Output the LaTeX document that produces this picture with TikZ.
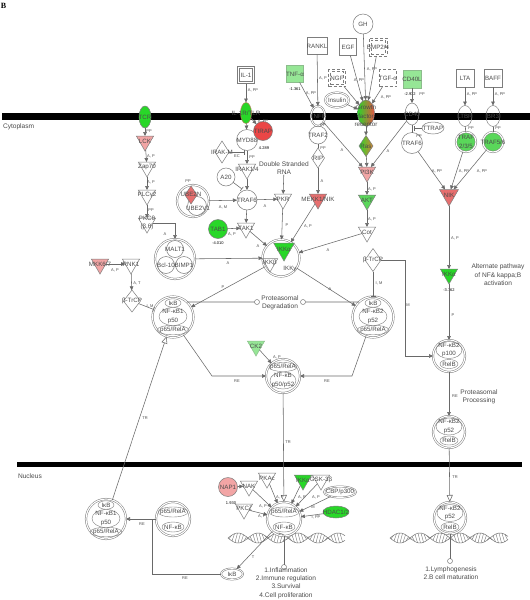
\documentclass[tikz,border=0pt]{standalone}
\usepackage{fontspec}
\setmainfont{Liberation Sans}
\newfontfamily\serifbf{Liberation Serif}
\usetikzlibrary{shapes.geometric,arrows.meta}
\definecolor{ec}{RGB}{105,105,105}
\definecolor{nc}{RGB}{125,125,125}
\definecolor{tc}{RGB}{75,75,75}
\definecolor{gA}{RGB}{40,215,40}
\definecolor{gM}{RGB}{90,215,90}
\definecolor{gB}{RGB}{150,230,150}
\definecolor{rA}{RGB}{235,70,70}
\definecolor{rM}{RGB}{230,110,110}
\definecolor{rB}{RGB}{242,165,165}
\definecolor{orng}{RGB}{215,130,60}
\begin{document}
\begin{tikzpicture}[x=1pt,y=-1pt,
  every node/.style={inner sep=0pt,outer sep=0pt},
  nd/.style={draw=nc,line width=0.5pt},
  nl/.style={font=\fontsize{6.2}{8.5}\selectfont,text=tc,align=center},
  nlab/.style={label={[nl]center:#1}},
  circ/.style={nd,circle,minimum size=20pt},
  dcirc/.style={nd,circle,double=white,double distance=1.1pt,minimum size=40pt},
  tri/.style={nd,regular polygon,regular polygon sides=3,shape border rotate=180,minimum size=20pt},
  diam/.style={nd,diamond,minimum width=14pt,minimum height=21pt},
  sqr/.style={nd,rectangle,minimum width=17pt,minimum height=17pt},
  insq/.style={nd,rectangle,minimum width=13pt,minimum height=13pt},
  ell/.style={nd,ellipse,minimum width=13pt,minimum height=21pt},
  iell/.style={nd,ellipse,line width=0.4pt},
  el/.style={font=\fontsize{4}{4}\selectfont,text=tc},
  cv/.style={font=\fontsize{4}{4}\selectfont,text=black},
  tx/.style={font=\fontsize{6.6}{8.4}\selectfont,text=tc,align=center},
  ar/.style={draw=ec,line width=0.55pt,-{Triangle[width=3.6pt,length=4pt]}},
  ln/.style={draw=ec,line width=0.55pt},
  inh/.style={draw=ec,line width=0.55pt,-{Bar[width=5pt]}},
  tra/.style={draw=ec,line width=0.55pt,-{Triangle[open,width=6pt,length=7pt]}},
  dna/.style={draw=ec,line width=0.45pt}]
\fill[white] (0,0) rectangle (530,600);
\useasboundingbox (0,0) rectangle (530,600);
% membranes
\fill[black] (2,113) rectangle (530,120);
\fill[black] (17,462) rectangle (522,467);
\node[font=\serifbf\bfseries\fontsize{8}{8}\selectfont,anchor=west] (lblB) at (1,6) {B};
\node[tx,anchor=west] (cyto) at (3,127) {Cytoplasm};
\node[tx,anchor=west] (nucl) at (18,476) {Nucleus};
% DNA helices
\draw[dna] plot[domain=228:345,samples=90] (\x,{538+5*sin(9*(\x-228))});
\draw[dna] plot[domain=228:345,samples=90] (\x,{538-5*sin(9*(\x-228))});
\foreach \u in {229,232,...,342} {\draw[dna,line width=0.35pt] (\u,{538+5*sin(9*(\u-228))}) -- ({\u+2.5},{538-5*sin(9*(\u+2.5-228))});}
\draw[dna] plot[domain=390:508,samples=90] (\x,{538+5*sin(9*(\x-390))});
\draw[dna] plot[domain=390:508,samples=90] (\x,{538-5*sin(9*(\x-390))});
\foreach \u in {391,394,...,505} {\draw[dna,line width=0.35pt] (\u,{538+5*sin(9*(\u-390))}) -- ({\u+2.5},{538-5*sin(9*(\u+2.5-390))});}

% ---------- left column ----------
\node[ell,fill=gA,minimum width=12pt,minimum height=22pt,nlab=TCR] (tcr) at (145,117) {};
\node[tri,fill=rB,nlab=LCK] (lck) at (145,141) {};
\node[tri,nlab=Zap70] (zap) at (147,167) {};
\node[tri,nlab=PLCγ2] (plc) at (147,195) {};
\node[tri,nlab={PKCθ\\(β,θ)}] (pkc) at (147,223) {};
\node[dcirc,minimum size=40pt] (malt) at (175,259) {};
\node[circ,minimum size=17pt,nlab=MALT1] (malt1) at (175,249) {};
\node[circ,minimum size=17pt,nlab=Bcl-10] (bcl) at (166,265) {};
\node[circ,minimum size=17pt,nlab=BIMP1] (bimp) at (184,265) {};
\node[tri,fill=rB,nlab=MKK6/7] (mkk) at (100,264) {};
\node[tri,nlab=RNK1] (rnk) at (131,264) {};
\node[diam,minimum width=17pt,minimum height=22pt,nlab=β-TrCP] (btl) at (132,301) {};
\node[dcirc,minimum size=41pt] (lcx) at (173,317) {};
\node[iell,minimum width=16pt,minimum height=8.5pt,nlab=IκB] (lcxa) at (173,303) {};
\node[iell,minimum width=28pt,minimum height=18pt,nlab={NF-κB1\\p50}] (lcxb) at (173,316.5) {};
\node[iell,minimum width=32pt,minimum height=9.5pt,nlab=p65/RelA] (lcxc) at (173,330) {};

% ---------- IL-1 branch ----------
\node[sqr,nlab=IL-1] (il1) at (246,75) {};
\node[insq] (il1in) at (246,75) {};
\node[ell,fill=gA,draw=orng!60!nc,minimum width=11pt,minimum height=21pt,nlab=IL-1R/TLR] (il1r) at (246,113) {};
\node[circ,minimum size=21pt,nlab=MYD88] (myd) at (247,140) {};
\node[circ,fill=rA,minimum size=19pt,nlab=TIRAP] (tirap) at (263,131) {};
\node[cv] (tirapv) at (264,148) {4.289};
\node[diam,minimum width=14pt,minimum height=22pt,nlab=IRAK-M] (irakm) at (222,152) {};
\node[tri,nlab=IRAK1/4] (irak) at (247,169) {};
\node[circ,minimum size=18pt,nlab=A20] (a20) at (226,177) {};
\node[circ,minimum size=20pt,nlab=TRAF6] (traf6l) at (247,200) {};
\node[tx] (dsrna) at (284,168) {Double Stranded\\RNA};
\node[tri,nlab=PKR] (pkr) at (283,199) {};
\node[dcirc,minimum size=32pt] (ube) at (193,201) {};
\node[nd,circle,minimum size=19pt] (ube2v) at (197,206) {};
\node[nd,diamond,fill=rM,minimum width=12pt,minimum height=18pt] (ube2n) at (191,195) {};
\node[nl] (ube2nt) at (191,194) {UBE2N};
\node[nl] (ube2vt) at (198,208) {UBE2V1};
\node[el] (ubepp) at (188,181) {PP};
\node[circ,fill=gA,minimum size=19pt,nlab=TAB1] (tab1) at (218,229) {};
\node[cv] (tab1v) at (218,243) {-4.010};
\node[tri,nlab=TAK1] (tak) at (246,228) {};
\node[dcirc,minimum size=37pt] (ikk) at (281,258) {};
\node[tri,fill=gA,minimum size=24pt,nlab=IKKα] (ikka) at (284,249) {};
\node[tri,minimum size=18pt,nlab=IKKβ] (ikkb) at (270,263) {};
\node[nl] (ikkg) at (290,269) {IKKγ};
\node[tri,fill=rM,nlab=MEKK1/NIK] (mekk) at (318,199) {};

% ---------- TNF / growth factors ----------
\node[sqr,fill=gB,draw=gB!60!nc,nlab=TNF-α] (tnfa) at (295,74) {};
\node[cv] (tnfav) at (295,89) {-1.361};
\node[sqr,minimum width=20pt,nlab=RANKL] (rankl) at (317,46) {};
\node[nd,ellipse,double=white,double distance=1pt,minimum width=14pt,minimum height=20pt,nlab=TNFR] (tnfr) at (318,116) {};
\node[circ,minimum size=18pt,nlab=TRAF2] (traf2) at (318,135) {};
\node[diam,minimum width=13pt,minimum height=20pt,nlab=RIP] (rip) at (318,158) {};
\node[sqr,densely dashed,nlab=NGF] (ngf) at (337,78) {};
\node[insq,densely dashed] (ngfin) at (337,78) {};
\node[nd,ellipse,double=white,double distance=1pt,minimum width=24pt,minimum height=15pt,nlab=Insulin] (ins) at (337,100) {};
\node[sqr,nlab=EGF] (egf) at (348,47) {};
\node[circ,nlab=GH] (gh) at (363,24) {};
\node[sqr,densely dashed,minimum width=18pt,minimum height=18pt,nlab=BMP2/4] (bmp) at (378,47) {};
\node[insq,densely dashed,minimum width=14pt,minimum height=14pt] (bmpin) at (378,47) {};
\node[sqr,densely dashed,nlab=TGF-α] (tgfa) at (388,78) {};
\node[sqr,fill=gB,draw=gB!60!nc,minimum width=18pt,minimum height=18pt,nlab=CD40L] (cd40l) at (412,79) {};
\node[cv] (cd40lv) at (410,94) {-2.932};
\node[nd,ellipse,left color=gA,right color=rA!80!orng,minimum width=17pt,minimum height=26pt] (gfr) at (366,113) {};
\node[nl] (gfrt) at (366,116.5) {Growth\\factor\\receptor};
\node[diam,left color=gA,right color=orng,minimum width=14pt,minimum height=21pt,nlab=Ras] (ras) at (366,146) {};
\node[tri,fill=rB,nlab=PI3K] (pi3k) at (367,172) {};
\node[tri,fill=gM,nlab=AKT] (akt) at (367,200) {};
\node[tri,nlab=Cot] (cot) at (367,232) {};
\node[ell,minimum width=14pt,minimum height=22pt,nlab=CD40] (cd40) at (412,114) {};
\node[nd,ellipse,minimum width=22pt,minimum height=12pt,nlab=TTRAP] (ttrap) at (433,128) {};
\node[circ,minimum size=21pt,nlab=TRAF6] (traf6r) at (412,143) {};
\node[sqr,minimum width=18pt,minimum height=18pt,nlab=LTA] (lta) at (465,78) {};
\node[sqr,minimum width=18pt,minimum height=18pt,nlab=BAFF] (baff) at (493,78) {};
\node[ell,minimum width=14pt,nlab=LTBR] (ltbr) at (465,116) {};
\node[ell,minimum width=14pt,nlab=BR3] (br3) at (493,116) {};
\node[dcirc,fill=gM,minimum size=20pt,nlab={TRAF\\2/3/5}] (traf235) at (466,142) {};
\node[dcirc,fill=gM,minimum size=20pt,nlab=TRAF5/6] (traf56) at (493,142) {};
\node[tri,fill=rM,minimum size=22pt,nlab=NIK] (nik) at (449,195) {};
\node[tri,fill=gA,nlab=IKKα] (ikka2) at (449,274) {};
\node[cv] (ikka2v) at (449,290) {-3.762};
\node[tx] (alt) at (498,275) {Alternate pathway\\of NF\& kappa;B\\activation};
\node[dcirc,minimum size=32pt] (p100) at (449,356) {};
\node[iell,minimum width=26pt,minimum height=17pt,nlab={NF-κB2\\p100}] (p100a) at (449,350) {};
\node[iell,minimum width=18pt,minimum height=9pt,nlab=RelB] (p100b) at (449,364) {};
\node[tx] (proc) at (479,397) {Proteasomal\\Processing};
\node[dcirc,minimum size=32pt] (p52c) at (449,432) {};
\node[iell,minimum width=26pt,minimum height=17pt,nlab={NF-κB2\\p52}] (p52ca) at (449,426.5) {};
\node[iell,minimum width=18pt,minimum height=9pt,nlab=RelB] (p52cb) at (449,440.5) {};

% ---------- middle ----------
\node[diam,minimum width=16pt,minimum height=23pt,nlab=β-TrCP] (btm) at (373,260) {};
\node[dcirc,minimum size=41pt] (rcx) at (373,317) {};
\node[iell,minimum width=16pt,minimum height=8.5pt,nlab=IκB] (rcxa) at (373,303) {};
\node[iell,minimum width=28pt,minimum height=18pt,nlab={NF-κB2\\p52}] (rcxb) at (373,316.5) {};
\node[iell,minimum width=32pt,minimum height=9.5pt,nlab=p65/RelA] (rcxc) at (373,330) {};
\node[tx] (prot) at (280,303) {Proteasomal\\Degradation};
\node[circ,minimum size=5pt] (pd1) at (257,302) {};
\node[circ,minimum size=5pt] (pd2) at (303,302) {};
\node[tri,fill=gB,draw=gB!60!nc,nlab=CK2] (ck2) at (256,346) {};
\node[dcirc,minimum size=34pt] (mcx) at (283,376) {};
\node[iell,minimum width=28pt,minimum height=9pt,nlab=p65/RelA] (mcxa) at (283,367) {};
\node[iell,minimum width=26pt,minimum height=17pt,nlab={NF-κB\\p50/p52}] (mcxb) at (283,380.5) {};

% ---------- nucleus ----------
\node[circ,fill=rB,minimum size=19pt,nlab=NAP1] (nap1) at (228,487) {};
\node[cv] (nap1v) at (231,503) {1.930};
\node[tri,nlab=NAK] (nak) at (249,486) {};
\node[tri,nlab=PKAc] (pkac) at (267,478) {};
\node[tri,nlab=PKCζ] (pkcz) at (244,509) {};
\node[tri,fill=gA,nlab=IKKα] (ikkan) at (303,480) {};
\node[tri,nlab=GSK-3β] (gsk) at (321,480) {};
\node[nd,ellipse,double=white,double distance=0.8pt,minimum width=32pt,minimum height=11pt,nlab=CBP/p300] (cbp) at (340,492) {};
\node[nd,ellipse,fill=gA,minimum width=26pt,minimum height=12pt,nlab=HDAC1/2] (hdac) at (336,512) {};
\node[dcirc,minimum size=34pt] (ncx) at (284,519) {};
\node[iell,minimum width=30pt,minimum height=10pt,nlab=p65/RelA] (ncxa) at (284,512) {};
\node[iell,minimum width=22pt,minimum height=10pt,nlab=NF-κB] (ncxb) at (284,527) {};
\node[dcirc,minimum size=40pt] (lnx) at (106,519) {};
\node[iell,minimum width=16pt,minimum height=8.5pt,nlab=IκB] (lnxa) at (106,505) {};
\node[iell,minimum width=28pt,minimum height=18pt,nlab={NF-κB1\\p50}] (lnxb) at (106,518.5) {};
\node[iell,minimum width=32pt,minimum height=9.5pt,nlab=p65/RelA] (lnxc) at (106,532) {};
\node[dcirc,minimum size=34pt] (pnx) at (173,519) {};
\node[iell,minimum width=30pt,minimum height=10pt,nlab=p65/RelA] (pnxa) at (173,512) {};
\node[iell,minimum width=22pt,minimum height=10pt,nlab=NF-κB] (pnxb) at (173,527) {};
\node[nd,ellipse,double=white,double distance=0.8pt,minimum width=22pt,minimum height=11pt,nlab=IκB] (ikbn) at (232,574) {};
\node[dcirc,minimum size=32pt] (p52n) at (450,518) {};
\node[iell,minimum width=26pt,minimum height=17pt,nlab={NF-κB2\\p52}] (p52na) at (450,513) {};
\node[iell,minimum width=18pt,minimum height=9pt,nlab=RelB] (p52nb) at (450,527) {};
\node[circ,minimum size=5pt] (o1) at (284,567) {};
\node[tx] (r1) at (286,583) {1.Inflammation\\2.Immune regulation\\3.Survival\\4.Cell proliferation};
\node[circ,minimum size=5pt] (o2) at (450,561) {};
\node[tx] (r2) at (451,573) {1.Lymphogenesis\\2.B cell maturation};

% ---------- coordinates ----------
\coordinate (myde) at (245,152);
\coordinate (a20e) at (242,189);
\coordinate (tte) at (414,128);
\coordinate (bc) at (405,260);
\coordinate (lb) at (212,376);
\coordinate (rb) at (352,376);
\coordinate (j1) at (152,574);
\coordinate (j2) at (152,519);

% ---------- connectors ----------
\draw[ar] (il1) -- (il1r);
\draw[ar] (il1r) -- (myd);
\draw[ar] (il1r) -- (tirap);
\draw[ar] (myd) -- (irak);
\draw[inh] (irakm) -- (myde);
\draw[ar] (irak) -- (traf6l);
\draw[inh] (a20) -- (a20e);
\draw[ar] (traf6l) -- (tak);
\draw[ar] (traf6l) -- (pkr);
\draw[ar] (ube) -- (traf6l);
\draw[ar] (tab1) -- (tak);
\draw[ar] (tak) -- (ikk);
\draw[ar] (dsrna) -- (pkr);
\draw[ar] (pkr) -- (ikk);
\draw[ar] (mekk) -- (ikk);
\draw[ar] (cot) -- (ikk);
\draw[ar] (malt) -- (ikk);
\draw[ar] (pkc.east) -| (malt.north);
\draw[ar] (tcr) -- (lck);
\draw[ar] (lck) -- (zap);
\draw[ar] (zap) -- (plc);
\draw[ar] (plc) -- (pkc);
\draw[ar] (mkk) -- (rnk);
\draw[ar] (rnk) -- (btl);
\draw[inh] (btl) -- (lcx);
\draw[ar] (ikk) -- (lcx);
\draw[ar] (ikk) -- (rcx);
\draw[inh] (btm) -- (rcx);
\draw[ar] (btm.east) -- (bc) |- (p100.west);
\draw[ln] (lcx.47) -- (pd1);
\draw[ln] (pd2) -- (rcx.133);
\draw[ar] (lcx.-60) -- (lb) -- (mcx.west);
\draw[ar] (rcx.-110) -- (rb) -- (mcx.east);
\draw[ar] (ck2) -- (mcx);
\draw[tra] (mcx) -- (ncx);
\draw[ar] (nik) -- (ikka2);
\draw[ar] (ikka2) -- (p100);
\draw[ar] (p100) -- (p52c);
\draw[tra] (p52c) -- (p52n);
\draw[ar] (traf6r) -- (nik);
\draw[ar] (traf235) -- (nik);
\draw[ar] (traf56) -- (nik);
\draw[ar] (lta) -- (ltbr);
\draw[ar] (baff) -- (br3);
\draw[ln] (ltbr) -- (traf235);
\draw[ln] (br3) -- (traf56);
\draw[ar] (cd40l) -- (cd40);
\draw[ln] (cd40) -- (traf6r);
\draw[inh] (ttrap) -- (tte);
\draw[ar] (tnfa) -- (tnfr);
\draw[ar] (rankl) -- (tnfr);
\draw[ln] (tnfr) -- (traf2);
\draw[ln] (traf2) -- (rip);
\draw[ar] (rip) -- (mekk);
\draw[ar] (tnfr) -- (pi3k);
\draw[ar] (cd40) -- (pi3k);
\draw[ar] (gfr) -- (ras);
\draw[ar] (ras) -- (pi3k);
\draw[ar] (pi3k) -- (akt);
\draw[ar] (akt) -- (cot);
\draw[ar] (ngf) -- (gfr);
\draw[ar] (ins) -- (gfr);
\draw[ar] (egf) -- (gfr);
\draw[ar] (gh) -- (gfr);
\draw[ar] (bmp) -- (gfr);
\draw[ar] (tgfa) -- (gfr);
\draw[ar] (nap1) -- (nak);
\draw[ar] (nak) -- (ncx);
\draw[ar] (pkac) -- (ncx);
\draw[ar] (pkcz) -- (ncx);
\draw[ar] (ikkan) -- (ncx);
\draw[ar] (gsk) -- (ncx);
\draw[ar] (cbp) -- (ncx);
\draw[ar] (hdac) -- (ncx);
\draw[ar] (ncx) -- (ikbn);
\draw[ln] (ncx) -- (o1);
\draw[ln] (p52n) -- (o2);
\draw[ar] (pnx) -- (lnx);
\draw[ln] (ikbn) -- (j1) -- (j2);
\draw[tra] (lnx) -- (lcx);

% ---------- edge labels ----------
\node[el] (e1) at (253,90) {A, PP};
\node[el] (e2) at (263,121) {A, PP};
\node[el] (e3) at (252,157) {PP};
\node[el] (e4) at (237,156) {EC};
\node[el] (e5) at (223,207) {A, M};
\node[el] (e6) at (265,206) {A};
\node[el] (e7) at (232,234) {A, P};
\node[el] (e8) at (258,246) {A};
\node[el] (e9) at (287,225) {P};
\node[el] (e10) at (308,226) {A, P};
\node[el] (e11) at (328,250) {A};
\node[el] (e12) at (228,263) {A};
\node[el] (e13) at (165,234) {A};
\node[el] (e14) at (151,156) {A, P};
\node[el] (e15) at (151,182) {A, P};
\node[el] (e16) at (151,210) {PP};
\node[el] (e17) at (149,131) {PP};
\node[el] (e18) at (115,270) {A, P};
\node[el] (e19) at (137,283) {A, T};
\node[el] (e20) at (150,306) {I, M};
\node[el] (e21) at (223,287) {P};
\node[el] (e22) at (330,289) {A};
\node[el] (e23) at (379,283) {I, M};
\node[el] (e24) at (408,305) {M};
\node[el] (e25) at (237,381) {RE};
\node[el] (e26) at (327,381) {RE};
\node[el] (e27) at (277,357) {A, P};
\node[el] (e28) at (288,442) {TR};
\node[el] (e29) at (455,238) {A, P};
\node[el] (e30) at (453,315) {P};
\node[el] (e31) at (455,396) {RE};
\node[el] (e32) at (455,477) {TR};
\node[el] (e33) at (145,418) {TR};
\node[el] (e34) at (142,524) {RE};
\node[el] (e35) at (185,578) {RE};
\node[el] (e36) at (253,557) {T};
\node[el] (e37) at (263,506) {A, P};
\node[el] (e38) at (262,516) {A, P};
\node[el] (e39) at (280,497) {A, P};
\node[el] (e40) at (302,497) {A, P};
\node[el] (e41) at (316,497) {A, P};
\node[el] (e42) at (313,507) {M};
\node[el] (e43) at (316,517) {I, PP};
\node[el] (e44) at (323,125) {PP};
\node[el] (e45) at (323,148) {PP};
\node[el] (e46) at (322,181) {A};
\node[el] (e47) at (311,93) {A, PP};
\node[el] (e48) at (323,78) {A, P};
\node[el] (e49) at (342,150) {A};
\node[el] (e50) at (388,151) {A};
\node[el] (e51) at (372,189) {A, P};
\node[el] (e52) at (372,219) {A, P};
\node[el] (e53) at (372,69) {A, PP};
\node[el] (e54) at (359,80) {A, PP};
\node[el] (e55) at (386,97) {A, PP};
\node[el] (e56) at (422,94) {PP};
\node[el] (e57) at (419,136) {PP};
\node[el] (e58) at (472,94) {A, PP};
\node[el] (e59) at (500,94) {A, PP};
\node[el] (e60) at (471,128) {PP};
\node[el] (e61) at (498,128) {PP};
\node[el] (e62) at (437,171) {A, PP};
\node[el] (e63) at (464,171) {A, PP};
\node[el] (e64) at (482,171) {A, PP};
\end{tikzpicture}
\end{document}
